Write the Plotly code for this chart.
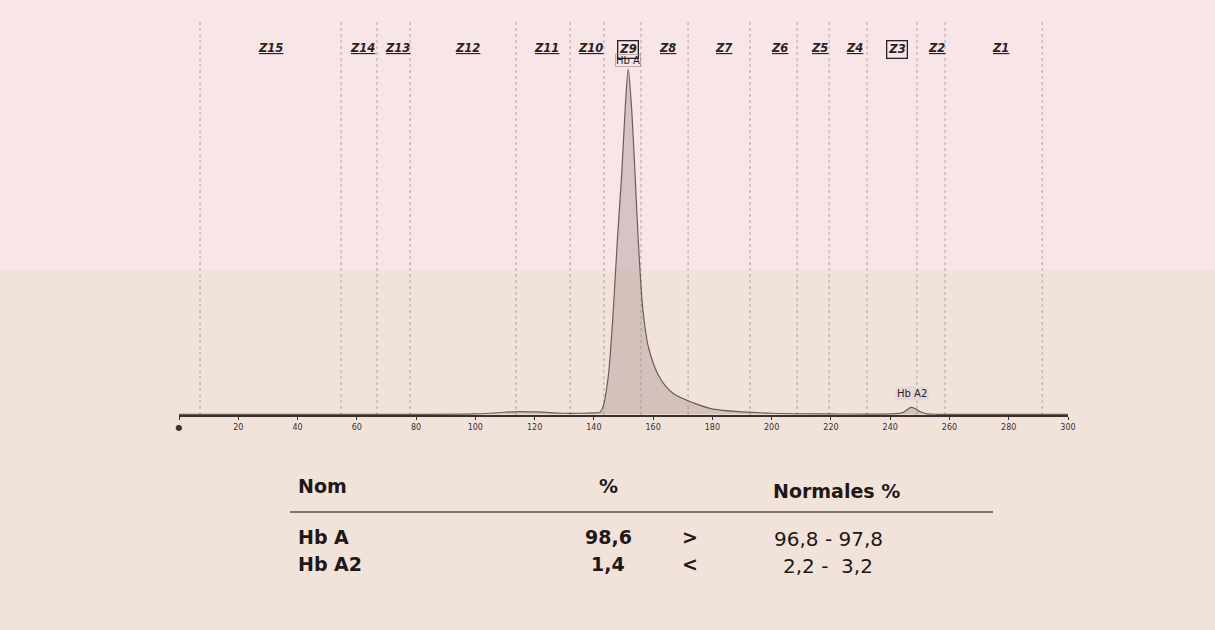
import plotly.graph_objects as go

# ---------------- data ----------------
# electropherogram trace (migration position, relative absorbance)
trace_x = [0, 20, 40, 60, 80, 100, 105, 110, 115, 120, 125, 130, 135, 140, 142.1,
           143.2, 144.9, 146.6, 147.9, 149.4, 150.6, 151.6, 152.7, 153.9, 155.0,
           156.5, 158.4, 162.3, 166.8, 173.6, 180.3, 190, 200, 220, 240, 244, 245.5,
           247, 248.5, 250, 252, 256, 260, 280, 300]
trace_y = [0, 0, 0, 0, 0, 0.1, 0.3, 0.6, 0.8, 0.7, 0.5, 0.3, 0.3, 0.4, 0.6,
           2.5, 11.3, 30.7, 50.1, 69.6, 89, 100, 89, 69.6, 50.1,
           30.7, 19.5, 10.5, 6.0, 3.3, 1.5, 0.7, 0.3, 0.1, 0.1, 0.4, 1.2,
           2.0, 1.6, 0.8, 0.2, 0, 0, 0, 0]

# zone boundaries and zone labels
zone_bounds = [7.1, 54.7, 66.8, 78.0, 113.7, 132.0, 143.4, 155.9, 171.8, 192.7,
               208.6, 219.4, 232.2, 249.0, 258.5, 291.3]
zone_names = ["Z15", "Z14", "Z13", "Z12", "Z11", "Z10", "Z9", "Z8", "Z7", "Z6",
              "Z5", "Z4", "Z3", "Z2", "Z1"]
zone_centers = [31.0, 61.8, 73.6, 97.2, 123.9, 139.0, 151.5, 165.0, 183.9, 202.5,
                216.0, 227.8, 242.3, 255.5, 277.1]
boxed_zones = ["Z9", "Z3"]

# peak labels
peak_names = ["Hb A", "Hb A2"]
peak_pos = [151.5, 247.5]

# axis ticks
tick_vals = [0, 20, 40, 60, 80, 100, 120, 140, 160, 180, 200, 220, 240, 260, 280, 300]
tick_text = ["●", "20", "40", "60", "80", "100", "120", "140", "160", "180", "200",
             "220", "240", "260", "280", "300"]

# results table
col_headers = ["Nom", "%", "Normales %"]
fraction_names = ["Hb A", "Hb A2"]
fraction_pct = ["98,6", "1,4"]
comparators = [">", "<"]
normal_ranges = ["96,8 - 97,8", "2,2 -  3,2"]

# ---------------- layout helpers ----------------
W, H = 1215, 630
L, R, T, B = 179, 147, 30, 215
PW, PH = W - L - R, H - T - B


def px(xp):
    return (xp - L) / PW


def py(yp):
    return 1 - (yp - T) / PH


fig = go.Figure()

fig.add_trace(go.Scatter(
    x=trace_x, y=trace_y, mode="lines",
    line=dict(color="#6b5c5c", width=1.2, shape="spline", smoothing=0.8),
    fill="tozeroy", fillcolor="rgba(140,120,120,0.30)",
    hoverinfo="skip", showlegend=False))

shapes = []
# background photo tones
shapes.append(dict(type="rect", xref="paper", yref="paper", layer="below",
                   x0=px(0), x1=px(W), y0=py(270), y1=py(H),
                   fillcolor="#f2e3da", line=dict(width=0)))
shapes.append(dict(type="rect", xref="paper", yref="paper", layer="below",
                   x0=px(0), x1=px(W), y0=py(0), y1=py(270),
                   fillcolor="#f7e5e7", line=dict(width=0)))

for b in zone_bounds:
    shapes.append(dict(type="line", xref="x", yref="paper", x0=b, x1=b,
                       y0=0, y1=py(22), layer="below",
                       line=dict(color="rgba(120,100,100,0.5)", width=1, dash="dot")))

# table rule
shapes.append(dict(type="line", xref="paper", yref="paper",
                   x0=px(290), x1=px(993), y0=py(512), y1=py(512),
                   line=dict(color="#5a4e4e", width=1.5)))

annotations = []
for name, c in zip(zone_names, zone_centers):
    boxed = name in boxed_zones
    annotations.append(dict(
        x=c, y=py(40), xref="x", yref="paper", showarrow=False, xanchor="center",
        text=("<b><i>%s</i></b>" % name) if boxed else ("<b><i><u>%s</u></i></b>" % name),
        font=dict(family="DejaVu Sans", size=11.5, color="#2a2222"),
        bordercolor="#222" if boxed else "rgba(0,0,0,0)", borderwidth=1.3 if boxed else 0,
        borderpad=1))

annotations.append(dict(x=peak_pos[0], y=py(54), xref="x", yref="paper", showarrow=False,
                        xanchor="center", text=peak_names[0],
                        font=dict(family="DejaVu Sans", size=10, color="#2a2222"),
                        bordercolor="rgba(150,130,130,0.6)", borderwidth=1, borderpad=0))
annotations.append(dict(x=peak_pos[1], y=py(401), xref="x", yref="paper", showarrow=False,
                        xanchor="center", text=peak_names[1],
                        font=dict(family="DejaVu Sans", size=10, color="#2a2222"),
                        bgcolor="#e6d8d8", borderpad=1))


def cell(xp, yp, txt, anchor="center", bold=True, size=19):
    annotations.append(dict(x=px(xp), y=py(yp), xref="paper", yref="paper",
                            showarrow=False, xanchor=anchor, yanchor="middle",
                            text=("<b>%s</b>" % txt) if bold else txt,
                            font=dict(family="DejaVu Sans", size=size, color="#1e1818")))


cell(296, 486, col_headers[0], "left")
cell(608, 486, col_headers[1])
cell(836, 491, col_headers[2])
row_y = [537, 564]
for i in range(len(fraction_names)):
    cell(296, row_y[i], fraction_names[i], "left")
    cell(608, row_y[i], fraction_pct[i])
    cell(690, row_y[i], comparators[i])
    cell(828, row_y[i] + 2, normal_ranges[i], bold=False, size=20)

fig.update_layout(
    width=W, height=H,
    margin=dict(l=L, r=R, t=T, b=B, pad=0),
    paper_bgcolor="#f4e3e2", plot_bgcolor="rgba(0,0,0,0)",
    shapes=shapes, annotations=annotations, showlegend=False,
    xaxis=dict(range=[0, 300], tickmode="array", tickvals=tick_vals, ticktext=tick_text,
               showgrid=False, zeroline=False, showline=True, linecolor="#3a3030",
               linewidth=2, ticks="outside", ticklen=3, tickcolor="#3a3030",
               tickfont=dict(family="DejaVu Sans", size=8, color="#3a3030"), fixedrange=True),
    yaxis=dict(range=[-0.2, 111.3], visible=False, showgrid=False, zeroline=False,
               fixedrange=True),
)

fig.write_html("out.html", config={"displayModeBar": False},
               post_script="document.body.style.margin='0';document.body.style.background='#f2e3da';")
